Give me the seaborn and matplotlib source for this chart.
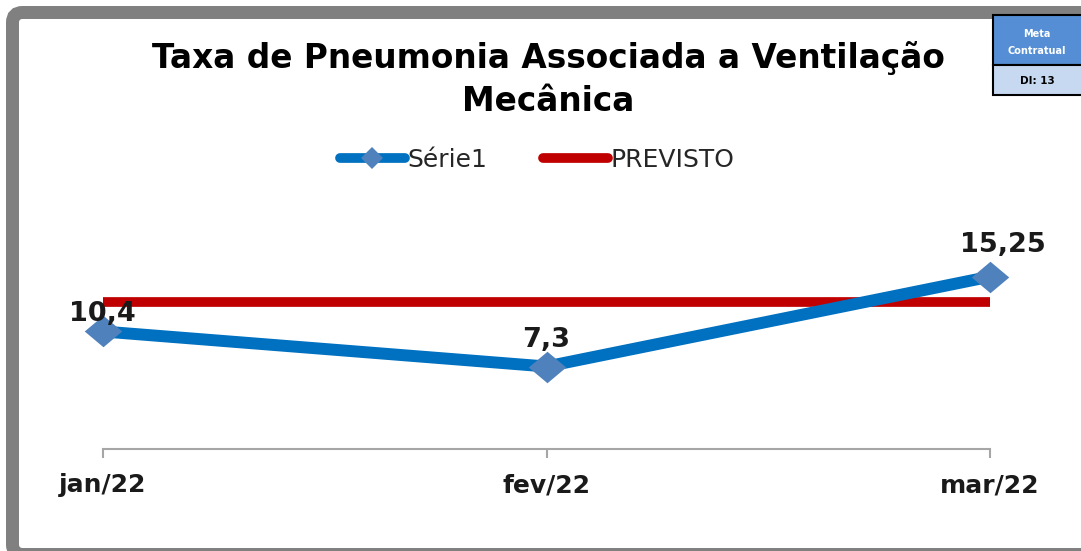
import matplotlib
matplotlib.use("Agg")
import matplotlib.pyplot as plt
from matplotlib.patches import FancyBboxPatch, Rectangle
from matplotlib.lines import Line2D
from matplotlib.path import Path
import seaborn as sns
import pandas as pd

# Chart data
months = ["jan/22", "fev/22", "mar/22"]
serie1 = [10.4, 7.3, 15.25]
previsto = [13, 13, 13]
value_labels = ["10,4", "7,3", "15,25"]

title_lines = ["Taxa de Pneumonia Associada a Ventilação", "Mecânica"]
meta_header = ["Meta", "Contratual"]
meta_value = "DI: 13"

sns.set_theme(style="white")
plt.rcParams["font.family"] = ["DejaVu Sans"]

W, H = 1081, 551
fig = plt.figure(figsize=(W / 100, H / 100), dpi=100, facecolor="white")

BLUE = "#0070C0"
MARK = "#4F81BD"
RED = "#C00000"

# Background frame (pixel coordinates)
bg = fig.add_axes([0, 0, 1, 1], zorder=-1)
bg.set_xlim(0, W)
bg.set_ylim(H, 0)
bg.axis("off")
bg.add_patch(FancyBboxPatch((12.5, 12.5), 1100, 542, boxstyle="round,pad=0,rounding_size=10",
                            facecolor="white", edgecolor="#808080", linewidth=13 * 0.72))

# Main plot area
ax = fig.add_axes([103 / W, 102 / H, 887 / W, 226 / H], zorder=1)
ax.set_facecolor("none")

df = pd.DataFrame({"mes": months, "Série1": serie1, "PREVISTO": previsto})
diamond = Path([(-1, 0), (0, 0.84), (1, 0), (0, -0.84), (-1, 0)],
               [Path.MOVETO, Path.LINETO, Path.LINETO, Path.LINETO, Path.CLOSEPOLY])

sns.lineplot(data=df, x="mes", y="PREVISTO", ax=ax, color=RED, linewidth=7.0,
             solid_capstyle="butt", zorder=2, legend=False)
sns.lineplot(data=df, x="mes", y="Série1", ax=ax, color=BLUE, linewidth=8.6,
             marker=diamond, markersize=27, markerfacecolor=MARK, markeredgewidth=0,
             zorder=3, legend=False, clip_on=False)

ax.set_xlim(0, len(months) - 1)
ax.set_ylim(0, 20)
ax.set_xlabel("")
ax.set_ylabel("")
ax.set_yticks([])
for s in ["left", "right", "top"]:
    ax.spines[s].set_visible(False)
ax.spines["bottom"].set_color("#A6A6A6")
ax.spines["bottom"].set_linewidth(1.5)
ax.set_xticks(range(len(months)))
ax.set_xticklabels(months, fontsize=18, fontweight="bold", color="#1a1a1a")
ax.tick_params(axis="x", direction="out", length=6.5, width=1.5, color="#A6A6A6", pad=11, bottom=True)

# Value labels above the points
label_offsets = [(-1, 17), (0, 27), (13, 32)]
for i, (v, txt) in enumerate(zip(serie1, value_labels)):
    dx, dy = label_offsets[i]
    ax.annotate(txt, (i, v), xytext=(dx, dy), textcoords="offset pixels",
                ha="center", va="center", fontsize=19.5, fontweight="bold", color="#1a1a1a",
                zorder=5, annotation_clip=False)

# Overlay for titles, legend and the side box
ov = fig.add_axes([0, 0, 1, 1], zorder=2)
ov.set_xlim(0, W)
ov.set_ylim(H, 0)
ov.axis("off")
ov.set_facecolor("none")

ov.text(548, 68, title_lines[0], ha="center", va="baseline", fontsize=23.6, fontweight="bold", color="black")
ov.text(548, 111, title_lines[1], ha="center", va="baseline", fontsize=23.6, fontweight="bold", color="black")

handles = [
    Line2D([], [], color=BLUE, linewidth=7, solid_capstyle="round",
           marker="D", markersize=11, markerfacecolor=MARK, markeredgewidth=0),
    Line2D([], [], color=RED, linewidth=7, solid_capstyle="round"),
]
fig.legend(handles, ["Série1", "PREVISTO"], loc="center", bbox_to_anchor=(537 / W, 1 - 160 / H),
           ncol=2, frameon=False, fontsize=18, handlelength=2.6, handletextpad=0.12,
           columnspacing=2.2, labelcolor="#262626")

# Contract target box
ov.add_patch(Rectangle((993, 15), 110, 50, facecolor="#558ED5", edgecolor="black", linewidth=1.5))
ov.add_patch(Rectangle((993, 65), 110, 30, facecolor="#C6D9F1", edgecolor="black", linewidth=1.5))
ov.text(1037, 34, meta_header[0], ha="center", va="center", fontsize=7, fontweight="bold", color="white")
ov.text(1037, 51, meta_header[1], ha="center", va="center", fontsize=7, fontweight="bold", color="white")
ov.text(1037, 81, meta_value, ha="center", va="center", fontsize=7.5, fontweight="bold", color="black")

fig.savefig("out.png", dpi=100, facecolor="white")
